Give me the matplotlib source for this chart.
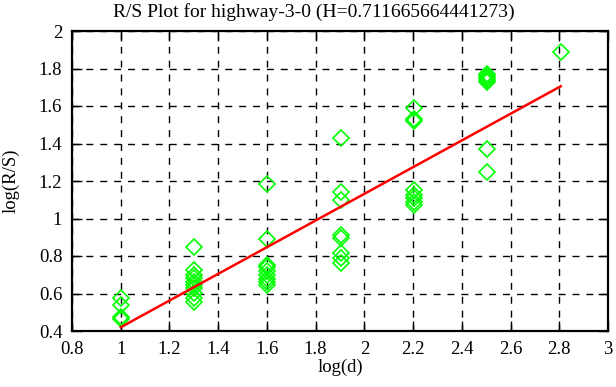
import matplotlib
matplotlib.use("Agg")
import matplotlib.pyplot as plt
from matplotlib.ticker import FuncFormatter, MultipleLocator

# R/S data: log(d) vs log(R/S)
log_d = ([1.0] * 4 + [1.301] * 10 + [1.602] * 9 + [1.903] * 8
         + [2.204] * 8 + [2.505] * 7 + [2.806])
log_rs = [0.576, 0.539, 0.475, 0.464,
          0.849, 0.726, 0.70, 0.683, 0.662, 0.646, 0.63, 0.603, 0.576, 0.555,
          1.186, 0.892, 0.753, 0.74, 0.72, 0.70, 0.68, 0.66, 0.648,
          1.43, 1.143, 1.10, 0.913, 0.897, 0.817, 0.79, 0.764,
          1.59, 1.53, 1.52, 1.154, 1.127, 1.111, 1.09, 1.074,
          1.77, 1.76, 1.75, 1.74, 1.73, 1.373, 1.25,
          1.887]

H = 0.711665664441273
intercept = -0.2917
fit_x = [1.0, 2.806]

plt.rcParams['font.family'] = ['Liberation Serif', 'DejaVu Serif']

fig = plt.figure(figsize=(6.16, 3.87), dpi=100)
ax = fig.add_axes([72 / 616, 1 - 331 / 387, 536 / 616, 300 / 387])

ax.plot(log_d, log_rs, linestyle='none', marker='D', markersize=8,
        markerfacecolor='none', markeredgecolor='#00ff00', markeredgewidth=1.2)
fit_y = [intercept + H * x for x in fit_x]
ax.plot(fit_x, fit_y, color='#ff0000', linewidth=1.8)

ax.set_xlim(0.8, 3)
ax.set_ylim(0.4, 2)
ax.xaxis.set_major_locator(MultipleLocator(0.2))
ax.yaxis.set_major_locator(MultipleLocator(0.2))
fmt = FuncFormatter(lambda v, p: '%g' % round(v, 2))
ax.xaxis.set_major_formatter(fmt)
ax.yaxis.set_major_formatter(fmt)
ax.tick_params(direction='in', length=7, width=1, top=True, right=True,
               labelsize=13.5, pad=7, colors='black')
ax.grid(True, color='black', linestyle=(0, (5, 5)), linewidth=1)
for s in ax.spines.values():
    s.set_linewidth(1.6)

# title is centred on the whole picture, as gnuplot does
fig.text(314 / 616, 1 - 12 / 387, 'R/S Plot for highway-3-0 (H=0.711665664441273)',
         fontsize=14, ha='center', va='center')
ax.set_xlabel('log(d)', fontsize=13.5, labelpad=1)
ax.set_ylabel('log(R/S)', fontsize=13.5, labelpad=14)

fig.savefig('out.png', dpi=100)
